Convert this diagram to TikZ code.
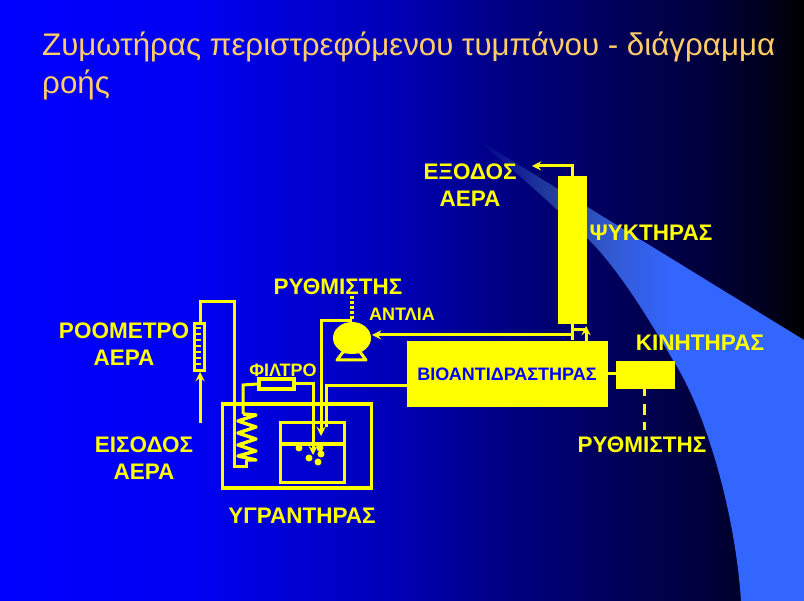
\documentclass[tikz,border=0pt]{standalone}
\usepackage{fontspec}
\setmainfont{Liberation Sans}
\usetikzlibrary{arrows,positioning,calc}
\definecolor{titleorange}{RGB}{255,204,102}
\definecolor{pipeyellow}{RGB}{255,255,0}
\pgfdeclarehorizontalshading{slideback}{100bp}{rgb(0bp)=(0,0,1); rgb(25bp)=(0,0,1); rgb(37bp)=(0,0,.95); rgb(50bp)=(0,0,.7); rgb(56bp)=(0,0,.52); rgb(62bp)=(0,0,.38); rgb(69bp)=(0,0,.23); rgb(73bp)=(0,0,.1); rgb(74.5bp)=(0,0,.02); rgb(75bp)=(0,0,0); rgb(100bp)=(0,0,0)}
\pgfdeclarehorizontalshading{bandfade}{100bp}{rgb(0bp)=(0,0,.55); rgb(25bp)=(0,0,.55); rgb(38bp)=(.15,.27,.62); rgb(47bp)=(.2,.36,.85); rgb(55bp)=(.2,.4,1); rgb(100bp)=(.2,.4,1)}
\tikzstyle{maintitle} = [text=titleorange, font=\fontsize{31.3}{38}\selectfont, anchor=west, inner sep=0pt]
\tikzstyle{tag} = [text=pipeyellow, font=\fontsize{22.5}{27}\selectfont\bfseries, align=center, inner sep=0pt]
\tikzstyle{smalltag} = [text=pipeyellow, font=\fontsize{18}{20}\selectfont\bfseries, inner sep=0pt]
\tikzstyle{solidbox} = [draw=pipeyellow, fill=pipeyellow, inner sep=0pt]
\tikzstyle{openbox} = [draw=pipeyellow, line width=3.4pt, inner sep=0pt]
\tikzstyle{pipe} = [draw=pipeyellow, line width=3pt]
\tikzstyle{arrow} = [pipe,->,>=stealth]
\tikzstyle{bubble} = [circle, fill=pipeyellow, inner sep=0pt, minimum size=7pt]
\begin{document}
\begin{tikzpicture}[x=1pt,y=-1pt]
\useasboundingbox (0,0) rectangle (804,601);
\shade[shading=slideback] (0,0) rectangle (804,601);
\shade[shading=bandfade] (475,138) -- (804,340) -- (804,601) -- (741,601) .. controls (735,510) and (705,410) .. (673,360) .. controls (652,325) and (620,270) .. (587,238) .. controls (560,212) and (520,175) .. (475,138) -- cycle;
% title
\node[maintitle] (title1) at (42,47) {Ζυμωτήρας περιστρεφόμενου τυμπάνου - διάγραμμα};
\node[maintitle] (title2) at (42,85) {ροής};
% equipment
\node (cooler) [solidbox, minimum width=28pt, minimum height=147pt] at (572,249.5) {};
\node (reactor) [solidbox, minimum width=200pt, minimum height=65pt] at (507.5,373.5) {};
\node (motor) [solidbox, minimum width=58pt, minimum height=27pt] at (645.5,374.5) {};
\node (pump) [inner sep=0pt, minimum width=38pt, minimum height=32pt] at (352,338) {};
\node (humid) [openbox, minimum width=149pt, minimum height=84pt] at (297,446) {};
\node (vessel) [openbox, minimum width=64pt, minimum height=60pt] at (312.5,452.5) {};
\node (filter) [openbox, minimum width=35pt, minimum height=10pt] at (276.5,384) {};
\node (flowm) [openbox, minimum width=10pt, minimum height=47pt] at (199.5,347) {};
% labels
\node[tag] (lbout) at (470,185) {ΕΞΟΔΟΣ\\ΑΕΡΑ};
\node[tag] (lbcool) at (651,233) {ΨΥΚΤΗΡΑΣ};
\node[tag] (lbreg) at (338,287) {ΡΥΘΜΙΣΤΗΣ};
\node[smalltag] (lbpump) at (402,314) {ΑΝΤΛΙΑ};
\node[tag] (lbflow) at (124,344) {ΡΟΟΜΕΤΡΟ\\ΑΕΡΑ};
\node[smalltag] (lbfilter) at (283,370) {ΦΙΛΤΡΟ};
\node[smalltag, text=blue] (lbreact) at (507,374) {ΒΙΟΑΝΤΙΔΡΑΣΤΗΡΑΣ};
\node[tag] (lbmotor) at (700,343) {ΚΙΝΗΤΗΡΑΣ};
\node[tag] (lbreg2) at (642,445) {ΡΥΘΜΙΣΤΗΣ};
\node[tag] (lbin) at (144,458) {ΕΙΣΟΔΟΣ\\ΑΕΡΑ};
\node[tag] (lbhum) at (302,516) {ΥΓΡΑΝΤΗΡΑΣ};
% free pipe ends
\coordinate (airin) at (200,423);
\coordinate (airout) at (532,166);
\coordinate (coiltop) at (243,414);
\coordinate (coilbot) at (246,460);
\coordinate (coolout) at (572,176);
\coordinate (pumptop) at (352,321);
\coordinate (pumpin) at (372,335);
\coordinate (motortap) at (644,388);
\coordinate (regend) at (644,431);
% pipes
\draw[arrow] (airin) -- (200,372);
\draw[pipe] (200,323) -- (200,302) -- (234,302) -- (234,467) -- (246,467) -- (coilbot);
\draw[pipe] (coiltop) -- (243,385) -- (filter.west);
\draw[arrow] (filter.east) -- (313,384) -- (313,455);
\draw[arrow] (pumptop) -- (321,321) -- (321,436);
\draw[arrow] (572,335) -- (pumpin);
\draw[pipe] (326,427) -- (326,386) -- (reactor.west |- 0,386);
\draw[arrow] (coolout) -- (572,166) -- (airout);
\draw[pipe] (cooler.south) -- (572,340);
\draw[pipe] (572,330) -- (586,330);
\draw[arrow] (586,341) -- (586,326);
\draw[pipe] (reactor.east) -- (reactor.east -| motor.west);
\draw[pipe, dash pattern=on 8pt off 8pt on 11pt off 7pt] (motortap) -- (regend);
\draw[pipe, line width=4.5pt, dash pattern=on 3pt off 2pt] (352,296) -- (pumptop);
% pump
\fill[pipeyellow] (pump.center) ellipse (19pt and 16pt);
\draw[pipe, line join=round] (337,360) -- (366,360) -- (360,352) -- (343,352) -- cycle;
% flowmeter ticks
\foreach \yy in {328,334,340,346,352,358,364} \draw[pipe, line width=2.6pt] (196,\yy) -- (201,\yy);
% coil
\draw[pipe, line width=3.4pt, line join=round] (coiltop) -- (256,415) -- (238,421) -- (256,427) -- (238,433) -- (256,439) -- (238,445) -- (256,451) -- (238,456) -- (256,460) -- (coilbot);
% liquid and bubbles
\draw[pipe, line width=3.4pt] (vessel.west |- 0,444) -- (vessel.east |- 0,444);
\node (b1) [bubble] at (299,448) {};
\node (b2) [bubble] at (320,448) {};
\node (b3) [bubble] at (321,454) {};
\node (b4) [bubble] at (309,458) {};
\node (b5) [bubble] at (318,462) {};
\end{tikzpicture}
\end{document}
